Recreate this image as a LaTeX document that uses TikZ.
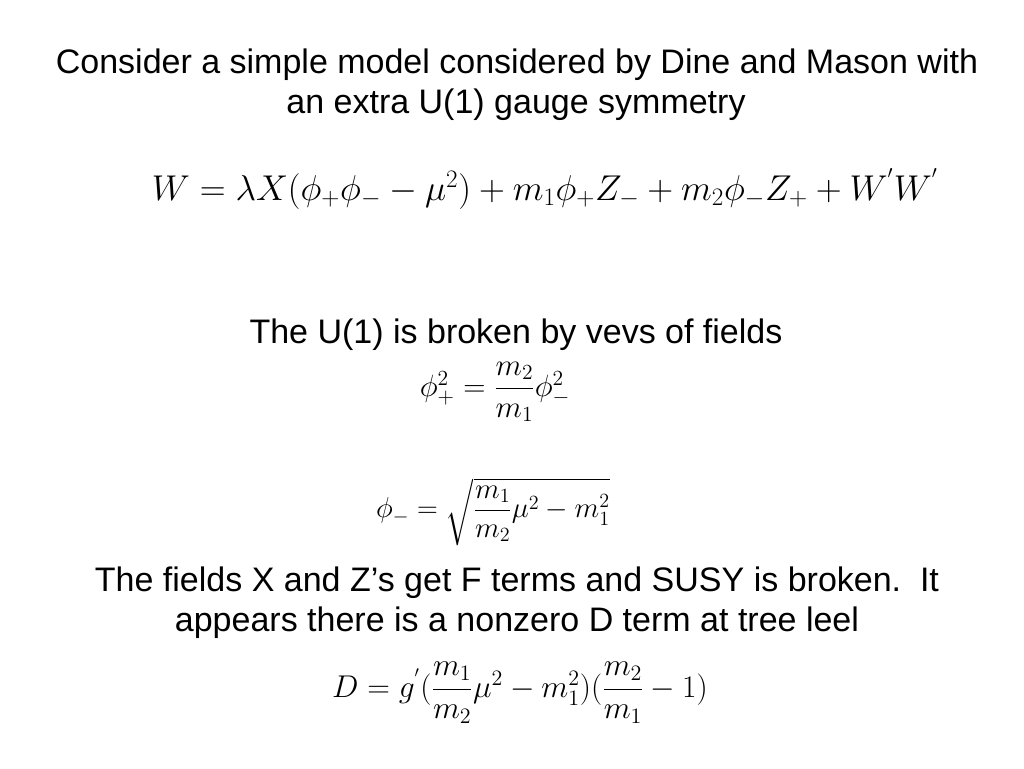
\RequirePackage{fix-cm}
\documentclass[tikz,border=0pt]{standalone}
\usepackage{amsmath}
\usepackage{fontspec}
\setmainfont{Liberation Sans}
\begin{document}
\begin{tikzpicture}[x=0.75pt,y=-0.75pt,
  txt/.style={inner sep=0pt,anchor=base,font=\fontsize{25.5}{30}\selectfont},
  eqn/.style={inner sep=0pt,anchor=center,font=\fontsize{26.9}{30}\selectfont}]
\useasboundingbox[fill=white] (0,0) rectangle (1024,768);
\node[txt] (t1) at (517,73) {Consider a simple model considered by Dine and Mason with};
\node[txt] (t2) at (516,113) {an extra U(1) gauge symmetry};
\node[eqn] (e1) at (545,189) {$W=\lambda X(\phi_+\phi_- -\mu^2)+m_1\phi_+Z_- + m_2\phi_-Z_+ + W^{'}W^{'}$};
\node[txt] (t3) at (516,343) {The U(1) is broken by vevs of fields};
\node[eqn,font=\fontsize{23.1}{26}\selectfont] (e2) at (495,392) {$\phi_+^2=\dfrac{m_2}{m_1}\phi_-^2$};
\node[eqn,font=\fontsize{21.6}{25}\selectfont] (e3) at (493,512) {$\phi_-=\sqrt{\dfrac{m_1}{m_2}\mu^2-m_1^2}$};
\node[txt] (t4) at (517,591) {The fields X and Z’s get F terms and SUSY is broken.\ \ It};
\node[txt] (t5) at (517,631) {appears there is a nonzero D term at tree leel};
\node[eqn,font=\fontsize{23.6}{26}\selectfont] (e4) at (520,693) {$D=g^{'}(\dfrac{m_1}{m_2}\mu^2-m_1^2)(\dfrac{m_2}{m_1}-1)$};
\end{tikzpicture}
\end{document}
